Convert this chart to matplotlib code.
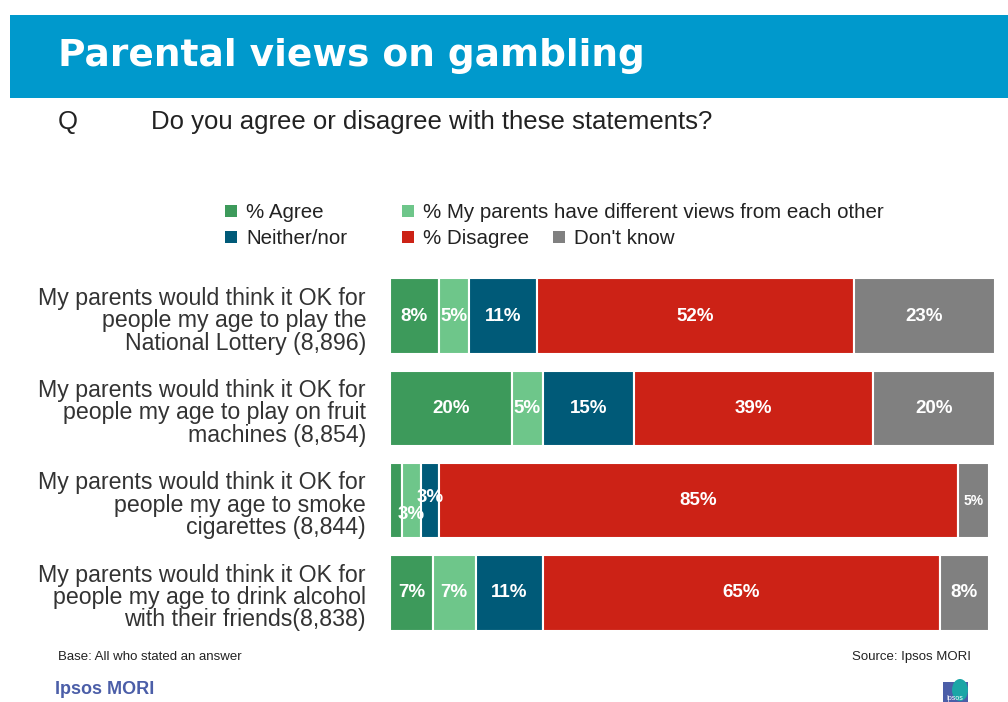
import matplotlib
matplotlib.use("Agg")
import matplotlib.pyplot as plt
from matplotlib.patches import Rectangle, Ellipse

# ---- data ----
statements = [
    "My parents would think it OK for\npeople my age to play the\nNational Lottery (8,896)",
    "My parents would think it OK for\npeople my age to play on fruit\nmachines (8,854)",
    "My parents would think it OK for\npeople my age to smoke\ncigarettes (8,844)",
    "My parents would think it OK for\npeople my age to drink alcohol\nwith their friends(8,838)",
]
series = ["% Agree", "% My parents have different views from each other",
          "Neither/nor", "% Disagree", "Don't know"]
agree = [8, 20, 2, 7]
different_views = [5, 5, 3, 7]
neither = [11, 15, 3, 11]
disagree = [52, 39, 85, 65]
dont_know = [23, 20, 5, 8]

colors = ["#3d9a5b", "#6ec68a", "#005a78", "#cc2216", "#808080"]

W, H = 1008, 702
fig = plt.figure(figsize=(W / 100, H / 100), dpi=100)
fig.patch.set_facecolor("white")
FONT = "Liberation Sans"

def fx(px):
    return px / W

def fy(py):
    return 1 - py / H

# ---- header banner ----
fig.patches.append(Rectangle((fx(10), fy(98)), fx(998), 83 / H, transform=fig.transFigure,
                             facecolor="#0099cc", edgecolor="none", zorder=0))
fig.text(fx(58), fy(56), "Parental views on gambling", color="white", fontsize=27,
         fontweight="bold", family="DejaVu Sans", va="center", ha="left")
fig.text(fx(58), fy(122), "Q", fontsize=18.5, family=FONT, color="#222222", va="center")
fig.text(fx(151), fy(122), "Do you agree or disagree with these statements?", fontsize=18.5,
         family=FONT, color="#222222", va="center")

# ---- legend ----
legend_pos = [(225, 211), (402, 211), (225, 237), (402, 237), (553, 237)]
for (px, py), name, c in zip(legend_pos, series, colors):
    fig.patches.append(Rectangle((fx(px), fy(py + 6)), 12 / W, 12 / H,
                                 transform=fig.transFigure, facecolor=c, edgecolor="none"))
    fig.text(fx(px + 21), fy(py + 1), name, fontsize=14.8, family=FONT, color="#222222",
             va="center", ha="left")

# ---- stacked bars ----
ax = fig.add_axes([fx(390), fy(639), fx(611), 369 / H])
values = [agree, different_views, neither, disagree, dont_know]
ypos = list(range(len(statements)))
left = [0] * len(statements)
containers = []
for vals, c in zip(values, colors):
    bars = ax.barh(ypos, vals, left=left, height=0.82, color=c, edgecolor="white",
                   linewidth=1.5)
    containers.append(bars)
    left = [l + v for l, v in zip(left, vals)]

ax.set_xlim(0, 100)
ax.set_ylim(3.5, -0.5)
ax.axis("off")

# value labels
for si, bars in enumerate(containers):
    for ri, rect in enumerate(bars):
        v = values[si][ri]
        if v < 3:
            continue
        cx = rect.get_x() + rect.get_width() / 2
        cy = rect.get_y() + rect.get_height() / 2
        size = 13.5
        if ri == 2 and si == 1:
            cy += 0.15
        elif ri == 2 and si == 2:
            cy -= 0.03
        elif ri == 2 and si == 4:
            size = 10
        ax.text(cx, cy, f"{v}%", color="white", fontsize=size, fontweight="bold",
                family=FONT, ha="center", va="center", clip_on=False)

# row labels
for ri, s in enumerate(statements):
    ax.text(-24 / 6.11, ri + 0.05, s, fontsize=16.7, family=FONT, color="#333333",
            ha="right", va="center", linespacing=0.96)

# ---- footer ----
fig.text(fx(58), fy(657), "Base: All who stated an answer", fontsize=9.5, family=FONT,
         color="#222222", va="center")
fig.text(fx(971), fy(657), "Source: Ipsos MORI", fontsize=9.5, family=FONT,
         color="#222222", va="center", ha="right")
fig.text(fx(55), fy(689), "Ipsos MORI", fontsize=13, family=FONT, fontweight="bold",
         color="#4b5ea8", va="center")
fig.patches.append(Rectangle((fx(943), fy(702)), 25 / W, 20 / H, transform=fig.transFigure,
                             facecolor="#4b5ea8", edgecolor="none"))
fig.patches.append(Ellipse((fx(960), fy(690)), 16 / W, 22 / H, transform=fig.transFigure,
                           facecolor="#1aa6a6", edgecolor="none"))
fig.text(fx(955), fy(699), "Ipsos", fontsize=5, family=FONT, color="white",
         ha="center", va="center")

fig.savefig("out.png", dpi=100)
